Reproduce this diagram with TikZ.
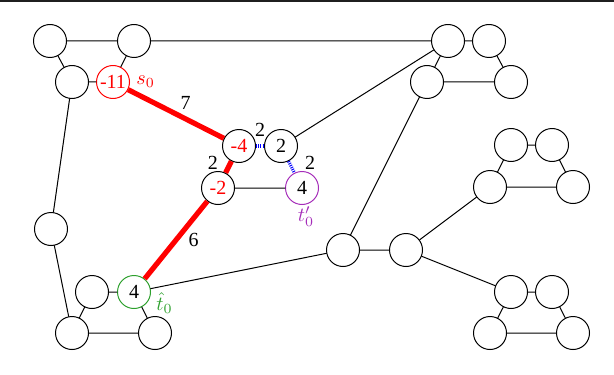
\documentclass[tikz,border=0pt]{standalone}
\usepackage{fontspec}
\setmainfont{Liberation Serif}
\definecolor{tpur}{RGB}{165,45,185}
\definecolor{tgreen}{RGB}{45,160,45}
\begin{document}
\begin{tikzpicture}[x=0.5pt, y=-0.5pt, font=\fontsize{10}{11}\selectfont, line join=round, line cap=round,
	v/.style={circle, draw, minimum size=16.5pt, inner sep=0pt, line width=0.5pt},
	e/.style={line width=0.5pt},
	flow/.style={red, line width=2.6pt, line cap=butt},
	pot/.style={blue, line width=1.6pt, dash pattern=on 0.5pt off 0.6pt, line cap=butt},
	w/.style={inner sep=1pt}]
	\useasboundingbox (0,0) rectangle (614,374);
	\fill[black!88] (0,0) rectangle (614,2.5);
	% left part
	\node[v] (a) at (50,41) {};
	\node[v] (b) at (134,41) {};
	\node[v] (c) at (72,82) {};
	\node[v, red, text=red, label={[red, inner sep=1pt, label distance=2pt]right:$s_0$}] (s0) at (113,82) {-11};
	\node[v, text=red] (m4) at (239,146) {-4};
	\node[v] (n2) at (281,146) {2};
	\node[v, text=red] (m2) at (218,188) {-2};
	\node[v, tpur, text=black, label={[tpur, inner sep=0.5pt, xshift=2pt]below:$t'_0$}] (t1) at (302,188) {4};
	\node[v] (d) at (51,229) {};
	\node[v] (e) at (92,292) {};
	\node[v, tgreen, text=black, label={[tgreen, inner sep=0pt, xshift=2.5pt, yshift=-5.5pt]right:$\hat{t}_0$}] (t0) at (134,292) {4};
	\node[v] (f) at (72,333) {};
	\node[v] (g) at (155,333) {};
	% right part
	\node[v] (h) at (448,41) {};
	\node[v] (i) at (489,41) {};
	\node[v] (j) at (427,82) {};
	\node[v] (k) at (511,82) {};
	\node[v] (l) at (511,145) {};
	\node[v] (m) at (552,145) {};
	\node[v] (n) at (490,187) {};
	\node[v] (o) at (573,187) {};
	\node[v] (p) at (343,250) {};
	\node[v] (q) at (406,250) {};
	\node[v] (r) at (511,292) {};
	\node[v] (s) at (552,292) {};
	\node[v] (t) at (490,333) {};
	\node[v] (u) at (573,333) {};
	\draw[e] (a)--(b) (a)--(c) (b)--(s0) (c)--(s0) (b)--(h) (c)--(d) (d)--(f)
	(m2)--(t1) (n2)--(h) (e)--(t0) (e)--(f) (t0)--(g) (f)--(g) (t0)--(p)
	(p)--(j) (p)--(q) (q)--(n) (q)--(r)
	(h)--(i) (h)--(j) (i)--(k) (j)--(k)
	(l)--(m) (l)--(n) (m)--(o) (n)--(o)
	(r)--(s) (r)--(t) (s)--(u) (t)--(u);
	\draw[flow] (s0) -- node[w, midway, above right, text=black]{7} (m4);
	\draw[flow] (m4) -- node[w, midway, left=3pt, yshift=2pt, text=black]{2} (m2);
	\draw[flow] (m2) -- node[w, midway, right=4pt, text=black]{6} (t0);
	\draw[pot] (m4) -- node[w, midway, above=3pt, text=black]{2} (n2);
	\draw[pot] (n2) -- node[w, midway, right=5pt, yshift=2pt, text=black]{2} (t1);
\end{tikzpicture}
\end{document}
